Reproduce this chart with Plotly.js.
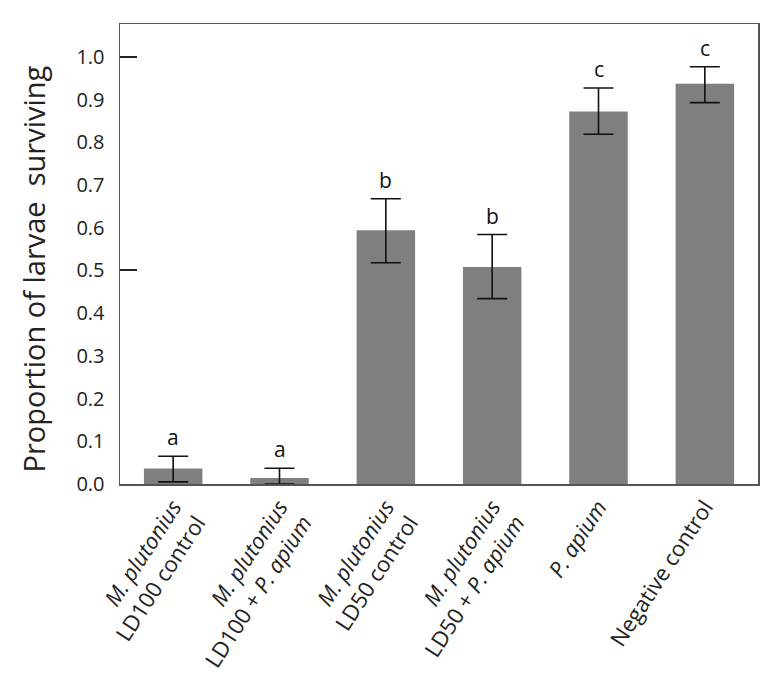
<!DOCTYPE html>
<html>
<head>
<meta charset="utf-8">
<script src="https://cdn.plot.ly/plotly-3.0.1.min.js"></script>
<style>html,body{margin:0;padding:0;background:#fff;}#chart{width:779px;height:678px;}</style>
</head>
<body>
<div id="chart"></div>
<script>
var categories = ["M. plutonius LD100 control", "M. plutonius LD100 + P. apium", "M. plutonius LD50 control", "M. plutonius LD50 + P. apium", "P. apium", "Negative control"];
var tickLabels = ["<i>M. plutonius</i><br>LD100 control", "<i>M. plutonius</i><br>LD100 + <i>P. apium</i>", "<i>M. plutonius</i><br>LD50 control", "<i>M. plutonius</i><br>LD50 + <i>P. apium</i>", "<i>P. apium</i>", "Negative control"];
var survival = [0.036, 0.014, 0.594, 0.508, 0.872, 0.937];
var errPlus = [0.029, 0.023, 0.074, 0.076, 0.055, 0.040];
var errMinus = [0.031, 0.014, 0.076, 0.074, 0.053, 0.044];
var letters = ["a", "a", "b", "b", "c", "c"];
var yTicks = [0, 0.1, 0.2, 0.3, 0.4, 0.5, 0.6, 0.7, 0.8, 0.9, 1.0];
var yTickText = ["0.0", "0.1", "0.2", "0.3", "0.4", "0.5", "0.6", "0.7", "0.8", "0.9", "1.0"];
var markedTicks = [0.5, 1.0];

var font = "Open Sans, Liberation Sans, sans-serif";

var trace = {
  type: "bar",
  x: categories,
  y: survival,
  marker: {color: "#7f7f7f", line: {width: 0}},
  width: 0.55,
  error_y: {type: "data", symmetric: false, array: errPlus, arrayminus: errMinus, color: "#111", thickness: 1.6, width: 15},
  hoverinfo: "none"
};

var annotations = categories.map(function (c, i) {
  return {x: c, y: survival[i] + errPlus[i], xref: "x", yref: "y", text: letters[i], showarrow: false,
    yanchor: "bottom", yshift: 3, font: {family: font, size: 21, color: "#111"}};
});

var layout = {
  width: 779, height: 678,
  margin: {l: 120, r: 21, t: 24, b: 194},
  paper_bgcolor: "#fff", plot_bgcolor: "#fff",
  showlegend: false,
  font: {family: font, color: "#222"},
  xaxis: {
    type: "category", range: [-0.5, 5.5],
    tickvals: categories, ticktext: tickLabels, tickangle: -57,
    tickfont: {family: font, size: 22, color: "#222"},
    showline: true, linecolor: "#555", linewidth: 1.5, mirror: true,
    ticks: "", showgrid: false, zeroline: false
  },
  yaxis: {
    range: [0, 1.077],
    tickvals: yTicks, ticktext: yTickText,
    tickfont: {family: font, size: 20, color: "#222"},
    ticks: "", ticklabelstandoff: 10,
    minor: {tickvals: markedTicks, ticks: "inside", ticklen: 17, tickwidth: 2, tickcolor: "#222", showgrid: false},
    showline: true, linecolor: "#555", linewidth: 1.5, mirror: true,
    showgrid: false, zeroline: false,
    title: {text: "Proportion of larvae&nbsp; surviving&nbsp;&nbsp;&nbsp;&nbsp;", font: {family: font, size: 29, color: "#222"}, standoff: 22}
  },
  annotations: annotations
};

Plotly.newPlot("chart", [trace], layout, {displayModeBar: false, staticPlot: true});
</script>
</body>
</html>
